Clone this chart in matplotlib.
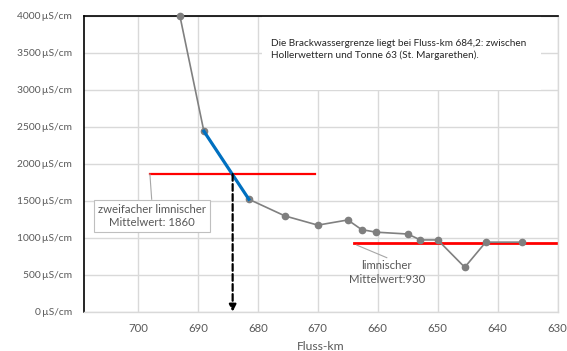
import matplotlib
matplotlib.use("Agg")
import matplotlib.pyplot as plt
from matplotlib.patches import Rectangle

# Leitfähigkeit entlang der Elbe (Fluss-km)
fluss_km = [693.0, 689.0, 681.5, 675.5, 670.0, 665.0, 662.7, 660.3,
            655.0, 652.9, 650.0, 645.5, 642.0, 636.0]
leitf = [4000, 2440, 1520, 1295, 1170, 1240, 1110, 1075,
         1050, 970, 970, 600, 940, 940]

# Abschnitt, in dem die Grenze liegt
grenz_km = [689.0, 681.5]
grenz_lf = [2440, 1520]

brack_km = 684.2
zweifach_mw = 1860
zweifach_von_bis = [698.0, 670.5]
limn_mw = 930
limn_von_bis = [664.0, 630.0]

y_ticks = [0, 500, 1000, 1500, 2000, 2500, 3000, 3500, 4000]
x_ticks = [700, 690, 680, 670, 660, 650, 640, 630]

plt.rcParams["font.family"] = ["Lato", "DejaVu Sans"]
TXT = "#595959"
GRID = "#d9d9d9"

fig = plt.figure(figsize=(5.67, 3.51), dpi=100)
ax = fig.add_axes([0.148, 0.112, 0.8356, 0.843])

ax.set_xlim(709, 630)
ax.set_ylim(0, 4000)
ax.set_xticks(x_ticks)
ax.set_yticks(y_ticks)
ax.set_yticklabels([f"{v}\u2009µS/cm" for v in y_ticks])
ax.tick_params(axis="y", length=0, labelsize=7.4, labelcolor=TXT, pad=8.5)
ax.tick_params(axis="x", length=0, labelsize=8.2, labelcolor=TXT, pad=8)
ax.grid(True, color=GRID, lw=1)
ax.set_axisbelow(True)

for side in ("left", "top"):
    ax.spines[side].set_color("black")
    ax.spines[side].set_linewidth(1.2)
for side in ("right", "bottom"):
    ax.spines[side].set_color(GRID)
    ax.spines[side].set_linewidth(1)

# white text field hiding the grid
ax.add_patch(Rectangle((0.375, 0.75), 0.59, 0.263, transform=ax.transAxes,
                       facecolor="white", edgecolor="none", zorder=1))
ax.text(0.395, 0.922, "Die Brackwassergrenze liegt bei Fluss-km 684,2: zwischen\n"
        "Hollerwettern und Tonne 63 (St. Margarethen).",
        transform=ax.transAxes, fontsize=7.2, color="#262626",
        va="top", ha="left", linespacing=1.35, zorder=2)

ax.plot(fluss_km, leitf, color="#808080", lw=1.2, marker="o", ms=4.5,
        mfc="#7f7f7f", mec="#7f7f7f", zorder=3, clip_on=False)
ax.plot(grenz_km, grenz_lf, color="#0070c0", lw=2.3, zorder=4)

ax.plot(zweifach_von_bis, [zweifach_mw] * 2, color="#ff0000", lw=1.6, zorder=2)
ax.plot(limn_von_bis, [limn_mw] * 2, color="#ff0000", lw=2.0, zorder=2)

ax.annotate("", xy=(brack_km, 0), xytext=(brack_km, zweifach_mw),
            arrowprops=dict(arrowstyle="-|>", ls=(0, (3, 1.5)), lw=1.6,
                            color="black", mutation_scale=10,
                            shrinkA=0, shrinkB=0), zorder=5)

# labels with leader lines
ax.plot([698.0, 697.7], [zweifach_mw, 1520], color="#a6a6a6", lw=0.8, zorder=2)
ax.text(697.7, 1295, "zweifacher limnischer\nMittelwert: 1860", ha="center",
        va="center", fontsize=8.2, color=TXT, linespacing=1.3, zorder=6,
        bbox=dict(boxstyle="square,pad=0.35", fc="white", ec="#bfbfbf", lw=0.8))

ax.plot([663.5, 658.5], [limn_mw - 30, 730], color="#a6a6a6", lw=0.8, zorder=2)
ax.text(658.5, 530, "limnischer\nMittelwert:930", ha="center", va="center",
        fontsize=8.2, color=TXT, linespacing=1.3, zorder=6)

ax.set_xlabel("Fluss-km", fontsize=8.7, color=TXT, labelpad=5)

fig.savefig("out.png", dpi=100)
